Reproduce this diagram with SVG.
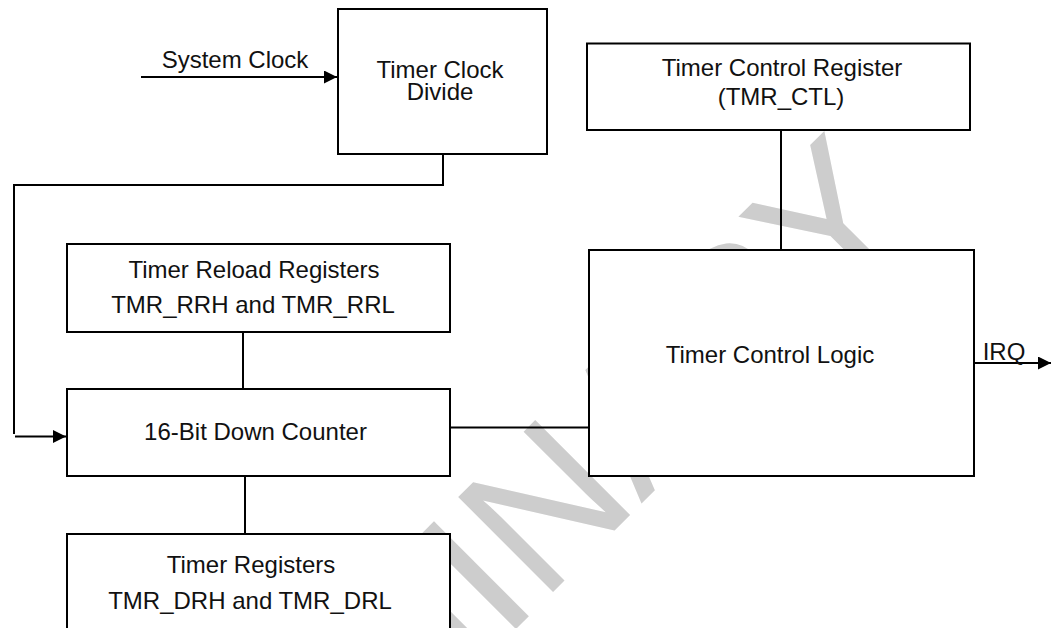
<svg xmlns="http://www.w3.org/2000/svg" width="1054" height="628" viewBox="0 0 1054 628">
  <style>
    .box { fill: #ffffff; stroke: #000000; stroke-width: 2; }
    .wire { fill: none; stroke: #000000; stroke-width: 2; }
    .lbl { font-family: "Liberation Sans", Arial, sans-serif; font-size: 24px; fill: #111111; text-anchor: middle; }
    .mark { font-family: "Liberation Sans", Arial, sans-serif; font-size: 195px; fill: #cdcdcd; }
  </style>
  <defs>
    <marker id="arrow" markerUnits="userSpaceOnUse" markerWidth="13" markerHeight="13" refX="13" refY="6.5" orient="auto">
      <path d="M0,0 L13,6.5 L0,13 Z" fill="#000000"/>
    </marker>
  </defs>

  <rect width="1054" height="628" fill="#ffffff"/>

  <!-- background stamp -->
  <text class="mark" transform="translate(-10,1155) rotate(-45)">PRELIMINARY</text>

  <g id="connectors">
    <path class="wire" d="M141,77 H337" marker-end="url(#arrow)"/>
    <path class="wire" d="M443,154 V185 H14 V434"/>
    <path class="wire" d="M15,436.5 H66" marker-end="url(#arrow)"/>
    <path class="wire" d="M243,332 V389"/>
    <path class="wire" d="M245,476 V534"/>
    <path class="wire" d="M450,427.5 H589"/>
    <path class="wire" d="M781,130 V250"/>
    <path class="wire" d="M974,363 H1051" marker-end="url(#arrow)"/>
  </g>

  <g id="system-clock">
    <text class="lbl" x="235" y="68">System Clock</text>
  </g>

  <g id="clock-divide">
    <rect class="box" x="338" y="9" width="209" height="145"/>
    <text class="lbl" x="440" y="78">Timer Clock</text>
    <text class="lbl" x="440" y="100">Divide</text>
  </g>

  <g id="control-register">
    <rect class="box" x="587" y="43.5" width="383" height="86.5"/>
    <text class="lbl" x="782" y="76">Timer Control Register</text>
    <text class="lbl" x="781" y="105">(TMR_CTL)</text>
  </g>

  <g id="reload-registers">
    <rect class="box" x="67" y="244" width="383" height="88"/>
    <text class="lbl" x="254" y="278">Timer Reload Registers</text>
    <text class="lbl" x="253" y="313">TMR_RRH and TMR_RRL</text>
  </g>

  <g id="down-counter">
    <rect class="box" x="67" y="389" width="383" height="87"/>
    <text class="lbl" x="255.5" y="440">16-Bit Down Counter</text>
  </g>

  <g id="timer-registers">
    <rect class="box" x="67" y="534" width="383" height="120"/>
    <text class="lbl" x="251" y="572.5">Timer Registers</text>
    <text class="lbl" x="250" y="609">TMR_DRH and TMR_DRL</text>
  </g>

  <g id="control-logic">
    <rect class="box" x="589" y="250" width="385" height="226"/>
    <text class="lbl" x="770" y="363">Timer Control Logic</text>
  </g>

  <g id="irq">
    <text class="lbl" x="1004" y="360">IRQ</text>
  </g>
</svg>
